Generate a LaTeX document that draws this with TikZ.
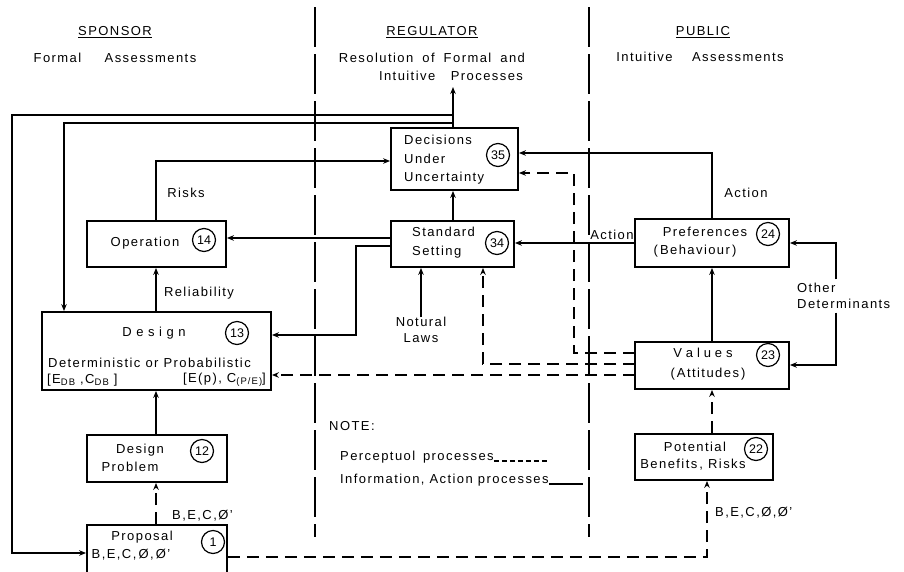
\documentclass[tikz,border=0pt]{standalone}
\usepackage{fontspec}
\setmainfont{Liberation Sans}[LetterSpace=11]
\usetikzlibrary{arrows.meta}
\begin{document}
\begin{tikzpicture}[x=1pt,y=-1pt,
  font=\fontsize{13}{15}\selectfont,
  box/.style={draw, line width=1.8pt, inner sep=0pt},
  num/.style={circle, draw, line width=1.2pt, minimum size=23pt, inner sep=0pt,
     font=\fontsize{12.5}{12}\selectfont\addfontfeature{LetterSpace=0}},
  txt/.style={inner sep=0pt, align=left},
  arr/.style={line width=1.7pt, -{Stealth[length=7pt,width=5.5pt]}},
  darr/.style={arr, dash pattern=on 12pt off 7pt},
  divider/.style={line width=1.8pt, dash pattern=on 40pt off 7pt}]
\useasboundingbox (0,0) rectangle (904,571);
\clip (0,0) rectangle (904,571);

% dividers
\coordinate (dvA1) at (315,7); \coordinate (dvA2) at (315,537);
\coordinate (dvB1) at (589,7); \coordinate (dvB2) at (589,537);
\draw[divider] (dvA1) -- (dvA2);
\draw[divider] (dvB1) -- (dvB2);

% headers
\node[txt] (hS) at (115,32) {\underline{SPONSOR}};
\node[txt] (hS2) at (115,58) {Formal\hspace{1.8em}Assessments};
\node[txt] (hR) at (432,32) {\underline{REGULATOR}};
\node[txt] (hR2) at (432,58) {Resolution\hspace{0.7em}of\hspace{0.7em}Formal\hspace{0.7em}and};
\node[txt] (hR3) at (451,76) {Intuitive\hspace{1.2em}Processes};
\node[txt] (hP) at (703,32) {\underline{PUBLIC}};
\node[txt] (hP2) at (700,57) {Intuitive\hspace{1.5em}Assessments};

% boxes
\node[box, minimum width=127pt, minimum height=62pt] (dec) at (454.5,159) {};
\node[box, minimum width=123pt, minimum height=46pt] (std) at (452.5,244) {};
\node[box, minimum width=139pt, minimum height=46pt] (op) at (156.5,244) {};
\node[box, minimum width=229pt, minimum height=78pt] (des) at (156.5,351) {};
\node[box, minimum width=140pt, minimum height=47pt] (dp) at (157,458.5) {};
\node[box, minimum width=140pt, minimum height=75pt] (prop) at (157,562.5) {};
\node[box, minimum width=154pt, minimum height=48pt] (pref) at (712,243) {};
\node[box, minimum width=154pt, minimum height=47pt] (val) at (712,365.5) {};
\node[box, minimum width=138pt, minimum height=46pt] (pot) at (704,457) {};

% box texts
\node[txt, anchor=west, font=\fontsize{13}{18.5}\selectfont] (dect) at (404,160) {Decisions\\Under\\Uncertainty};
\node[num] (n35) at (498,155) {35};
\node[txt, anchor=west, font=\fontsize{13}{19}\selectfont] (stdt) at (412,243) {Standard\\Setting};
\node[num] (n34) at (497,243) {34};
\node[txt] (opt) at (145,243) {Operation};
\node[num] (n14) at (204,240) {14};
\node[txt] (dest1) at (154,333) {D\hspace{0.35em}e\hspace{0.35em}s\hspace{0.35em}i\hspace{0.35em}g\hspace{0.35em}n};
\node[num] (n13) at (237,333) {13};
\node[txt, anchor=west] (dest2) at (48,363) {Deterministic or Probabilistic};
\node[txt, anchor=west] (dest3) at (47,380) {[E\raisebox{-2pt}{\fontsize{9.5}{9}\selectfont DB} ,C\raisebox{-2pt}{\fontsize{9.5}{9}\selectfont DB} ]};
\node[txt, anchor=east] (dest4) at (266,380) {[E(p), C\raisebox{-1.5pt}{\fontsize{9.5}{9}\selectfont (P/E)}]};
\node[txt] (dpt1) at (140,450) {Design};
\node[txt] (dpt2) at (130,467) {Problem};
\node[num] (n12) at (202,451) {12};
\node[txt] (prt1) at (142,537) {Proposal};
\node[txt] (prt2) at (131,555) {B,E,C,\,Ø,\,Ø'};
\node[num] (n1) at (213,542) {1};
\node[txt] (pft1) at (705,232) {Preferences};
\node[txt] (pft2) at (695,251) {(\,Behaviour\,)};
\node[num] (n24) at (768,234) {24};
\node[txt] (vat1) at (703,353) {V\hspace{0.3em}a\hspace{0.3em}l\hspace{0.3em}u\hspace{0.3em}e\hspace{0.3em}s};
\node[txt] (vat2) at (708,374) {(\,Attitudes\,)};
\node[num] (n23) at (768,355) {23};
\node[txt] (pot1) at (695,447) {Potential};
\node[txt] (pot2) at (693,465) {Benefits\,, Risks};
\node[num] (n22) at (756,449) {22};

% other labels
\node[txt] (lrisk) at (186,193) {Risks};
\node[txt] (lrel) at (199,293) {Reliability};
\node[txt, align=center, font=\fontsize{13}{16}\selectfont] (nl) at (421,330) {Notural\\Laws};
\node[txt] (lact1) at (612,235) {Action};
\node[txt] (lact2) at (746,193) {Action};
\node[txt, anchor=west, font=\fontsize{13}{15.5}\selectfont, minimum height=33pt] (od) at (797,296) {Other\\Determinants};
\node[txt, anchor=west] (lbec1) at (172,516) {B,E,C,Ø'};
\node[txt, anchor=west] (lbec2) at (715,513) {B,E,C,Ø,Ø'};
\node[txt, anchor=west] (note) at (329,426) {NOTE:};
\node[txt, anchor=west] (lperc) at (340,457) {Perceptuol\hspace{0.6em}processes};
\node[txt, anchor=west] (linfo) at (340,480) {Information, Action processes};

% legend samples
\coordinate (lg1) at (547,461);
\coordinate (lg2) at (583,484);
\draw[line width=1.5pt, dash pattern=on 5pt off 3pt] (lperc.east |- lg1) -- (lg1);
\draw[line width=1.5pt] (linfo.east |- lg2) -- (lg2);

% coordinates
\coordinate (top) at (453,87);
\coordinate (j1) at (453,115);
\coordinate (j2) at (453,123);
\coordinate (c1) at (12,115);
\coordinate (c2) at (12,553);
\coordinate (c3) at (64,123);
\coordinate (rk) at (156,161);
\coordinate (s1) at (391,238);
\coordinate (s2) at (391,246);
\coordinate (s3) at (356,335);
\coordinate (v1) at (635,353);
\coordinate (v2) at (635,364);
\coordinate (v3) at (635,375);
\coordinate (d1) at (574,173);
\coordinate (d2) at (483,364);
\coordinate (a1) at (712,153);
\coordinate (o1) at (836,243);
\coordinate (o2) at (836,365);
\coordinate (b1) at (707,557);

% solid connectors
\draw[arr] (dec.north -| top) -- (top);
\draw[arr] (j1) -- (c1) -- (c2) -- (prop.west |- c2);
\draw[arr] (j2) -- (c3) -- (des.north -| c3);
\draw[arr] (op.north -| rk) -- (rk) -- (dec.west |- rk);
\draw[arr] (des.north -| rk) -- (op.south -| rk);
\draw[arr] (s1) -- (op.east |- s1);
\draw[arr] (s2) -| (s3) -- (des.east |- s3);
\draw[arr] (std.north -| top) -- (dec.south -| top);
\draw[arr] (nl.north) -- (std.south -| nl.north);
\draw[arr] (pref.west) -- (std.east |- pref.west);
\draw[arr] (pref.north) -- (a1) -- (dec.east |- a1);
\draw[arr] (val.north) -- (pref.south);
\draw[arr] (o1 |- od.north) -- (o1) -- (pref.east |- o1);
\draw[arr] (o2 |- od.south) -- (o2) -- (val.east |- o2);
\draw[arr] (dp.north -| rk) -- (des.south -| rk);

% dashed connectors
\draw[darr] (v1) -| (d1) -- (dec.east |- d1);
\draw[darr] (v2) -- (d2) -- (std.south -| d2);
\draw[darr] (v3) -- (des.east |- v3);
\draw[darr] (pot.north -| val) -- (val.south);
\draw[darr] (prop.east |- b1) -- (b1) -- (pot.south -| b1);
\draw[darr] (prop.north -| rk) -- (dp.south -| rk);
\end{tikzpicture}
\end{document}
